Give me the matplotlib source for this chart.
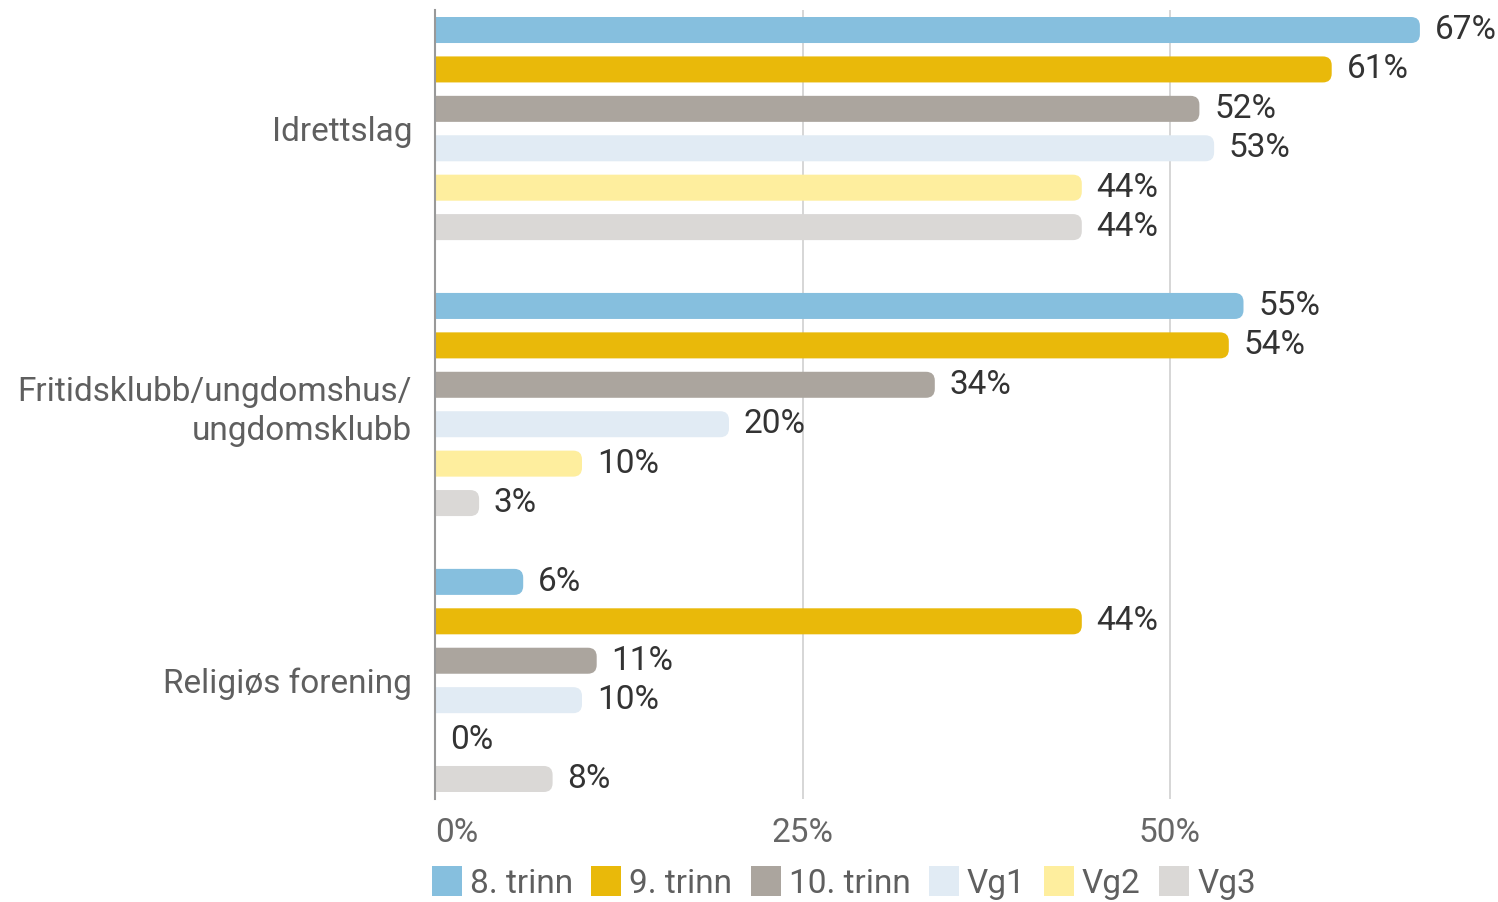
import matplotlib
matplotlib.use("Agg")
import matplotlib.pyplot as plt
from matplotlib.patches import FancyBboxPatch, Patch

categories = ["Idrettslag", "Fritidsklubb/ungdomshus/\nungdomsklubb", "Religiøs forening"]
series_names = ["8. trinn", "9. trinn", "10. trinn", "Vg1", "Vg2", "Vg3"]
colors = ["#86bfde", "#e9b90a", "#aba59e", "#e1ebf4", "#feee9e", "#dad8d6"]
values = {
    "8. trinn": [67, 55, 6],
    "9. trinn": [61, 54, 44],
    "10. trinn": [52, 34, 11],
    "Vg1": [53, 20, 10],
    "Vg2": [44, 10, 0],
    "Vg3": [44, 3, 8],
}
xticks = [0, 25, 50]
xticklabels = ["0%", "25%", "50%"]

plt.rcParams['font.family'] = ['Roboto', 'DejaVu Sans']
FS = 24
W, H = 1498, 902
fig = plt.figure(figsize=(W / 100, H / 100), dpi=100)
left, right, top, bottom = 435, 1498, 10.3, 798.7
ax = fig.add_axes([left / W, 1 - bottom / H, (right - left) / W, (bottom - top) / H])
px_per_x = 14.7
xmax = (right - left) / px_per_x
ax.set_xlim(0, xmax)
nslots = len(categories) * (len(series_names) + 1) - 1
ax.set_ylim(nslots - 0.5, -0.5)
px_per_y = (bottom - top) / nslots

bar_h = 0.66
r = 0.6
aspect = px_per_x / px_per_y
for ci, cat in enumerate(categories):
    for si, s in enumerate(series_names):
        slot = ci * (len(series_names) + 1) + si
        v = values[s][ci]
        if v > 0:
            p = FancyBboxPatch((-2, slot - bar_h / 2), v + 2, bar_h,
                               boxstyle=f"round,pad=0,rounding_size={r}",
                               mutation_aspect=aspect,
                               facecolor=colors[si], edgecolor="none", zorder=2)
            ax.add_patch(p)
        ax.text(v + 1.0, slot, f"{v}%", va="center", ha="left",
                fontsize=FS, color="#333333", zorder=3)

ax.set_xticks(xticks)
ax.set_xticklabels(xticklabels)
ax.get_xticklabels()[0].set_ha("left")
ax.tick_params(axis="x", length=0, pad=13, labelsize=FS, labelcolor="#666666")
ycenters = [ci * (len(series_names) + 1) + (len(series_names) - 1) / 2 for ci in range(len(categories))]
ax.set_yticks(ycenters)
ax.set_yticklabels(categories)
for t in ax.get_yticklabels():
    t.set_linespacing(1.27)
ax.tick_params(axis="y", length=0, pad=16.5, labelsize=FS, labelcolor="#5f5f5f")

for sp in ["top", "right", "bottom"]:
    ax.spines[sp].set_visible(False)
ax.spines["left"].set_color("#999999")
ax.spines["left"].set_linewidth(1.5)
ax.spines["left"].set_zorder(4)
for x in xticks[1:]:
    ax.axvline(x, color="#d0d0d0", linewidth=1.2, zorder=1)

handles = [Patch(facecolor=c, edgecolor="none") for c in colors]
fig.legend(handles, series_names, loc="center left",
           bbox_to_anchor=(432 / W, 1 - 883 / H), ncol=6, frameon=False,
           fontsize=FS, handlelength=0.9, handleheight=1.0,
           handletextpad=0.24, columnspacing=0.55, borderaxespad=0, borderpad=0,
           labelcolor="#5f5f5f")

fig.savefig("out.png", dpi=100)
